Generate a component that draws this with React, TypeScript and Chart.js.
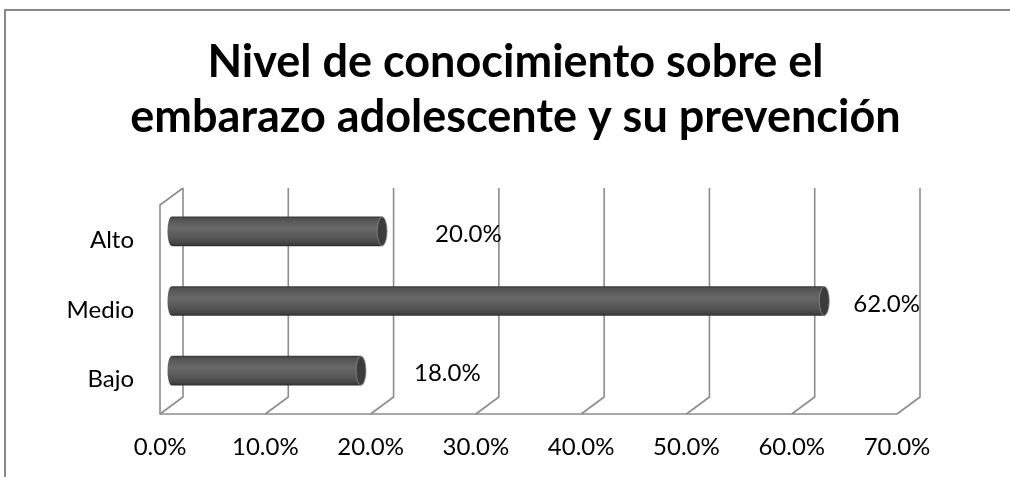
import React, { useEffect, useRef } from 'react';
import { Chart, registerables } from 'chart.js';

Chart.register(...registerables);

const categories = ['Alto', 'Medio', 'Bajo'];
const values = [20.0, 62.0, 18.0];
const axisMin = 0;
const axisMax = 70;
const axisStep = 10;
const titleLines = ['Nivel de conocimiento sobre el', 'embarazo adolescente y su prevención'];

const FONT = 'Lato, "Open Sans", sans-serif';
const DX = 11.5;
const DY = 8.5;
const GRID = '#8c8c8c';
const BAR_H = 29;

function bodyGradient(ctx: CanvasRenderingContext2D, top: number, bottom: number) {
  const g = ctx.createLinearGradient(0, top, 0, bottom);
  g.addColorStop(0, '#3a3a3a');
  g.addColorStop(0.08, '#535353');
  g.addColorStop(0.38, '#686868');
  g.addColorStop(0.72, '#565656');
  g.addColorStop(0.92, '#444444');
  g.addColorStop(1, '#2e2e2e');
  return g;
}

const framePlugin = {
  id: 'frame3d',
  beforeDatasetsDraw(chart: any) {
    const { ctx, chartArea: a, scales } = chart;
    const x = scales.x;
    ctx.save();
    // outer chart frame
    ctx.strokeStyle = '#878787';
    ctx.lineWidth = 2;
    ctx.beginPath();
    ctx.moveTo(5, 480);
    ctx.lineTo(5, 10);
    ctx.lineTo(1030, 10);
    ctx.stroke();

    ctx.strokeStyle = GRID;
    ctx.lineWidth = 1.6;
    const backTop = a.top - DY;
    const backBottom = a.bottom - DY;
    const frontBottom = a.bottom + DY;
    for (let v = axisMin; v <= axisMax; v += axisStep) {
      const m = x.getPixelForValue(v);
      ctx.beginPath();
      ctx.moveTo(m + DX, backTop);
      ctx.lineTo(m + DX, backBottom);
      ctx.lineTo(m - DX, frontBottom);
      ctx.stroke();
    }
    const f0 = x.getPixelForValue(axisMin) - DX;
    const f1 = x.getPixelForValue(axisMax) - DX;
    ctx.beginPath();
    ctx.moveTo(f1, frontBottom);
    ctx.lineTo(f0, frontBottom);
    ctx.lineTo(f0, a.top + DY);
    ctx.lineTo(f0 + 2 * DX, backTop);
    ctx.stroke();

    // title
    ctx.fillStyle = '#000';
    ctx.font = `bold 45px ${FONT}`;
    ctx.textAlign = 'center';
    ctx.textBaseline = 'alphabetic';
    ctx.fillText(titleLines[0], 515.5, 77);
    ctx.fillText(titleLines[1], 515.5, 132);
    ctx.restore();
  },
  afterDatasetsDraw(chart: any) {
    const { ctx, scales } = chart;
    const x = scales.x;
    const meta = chart.getDatasetMeta(0);
    ctx.save();
    meta.data.forEach((el: any, i: number) => {
      const p = el.getProps(['x', 'y', 'base', 'height'], true);
      const h = p.height;
      const top = p.y - h / 2;
      if (![p.x, p.y, p.base, h].every(Number.isFinite)) return;
      // left rounded end
      ctx.fillStyle = bodyGradient(ctx, top, top + h);
      ctx.beginPath();
      ctx.ellipse(p.base, p.y, 4, h / 2, 0, 0, Math.PI * 2);
      ctx.fill();
      // right cap
      ctx.fillStyle = '#3c3c3c';
      ctx.strokeStyle = '#8a8a8a';
      ctx.lineWidth = 0.8;
      ctx.beginPath();
      ctx.ellipse(p.x, p.y, 5, h / 2, 0, 0, Math.PI * 2);
      ctx.fill();
      ctx.stroke();

      // data label
      const text = values[i].toFixed(1) + '%';
      ctx.font = `24px ${FONT}`;
      ctx.fillStyle = '#000';
      ctx.textAlign = 'left';
      ctx.textBaseline = 'middle';
      const w = ctx.measureText(text).width;
      const limit = x.getPixelForValue(axisMax) + DX - w;
      const lx = Math.min(p.x + 53, limit);
      ctx.fillText(text, lx, p.y + 3);
    });
    ctx.restore();
  },
};

export default function App() {
  const ref = useRef<HTMLCanvasElement>(null);
  useEffect(() => {
    if (!ref.current) return;
    const chart = new Chart(ref.current, {
      type: 'bar',
      data: {
        labels: categories,
        datasets: [
          {
            data: values,
            barThickness: BAR_H,
            borderWidth: 0,
            backgroundColor: (c: any) => {
              const ch = c.chart;
              const y = ch.scales && ch.scales.y;
              if (!y || c.type !== 'data') return '#555555';
              const yc = y.getPixelForValue(c.dataIndex);
              if (!Number.isFinite(yc)) return '#555555';
              return bodyGradient(ch.ctx, yc - BAR_H / 2, yc + BAR_H / 2);
            },
          },
        ],
      },
      options: {
        indexAxis: 'y',
        animation: false,
        responsive: true,
        maintainAspectRatio: false,
        layout: { padding: { top: 196.5, right: 101.5, left: 0, bottom: 0 } },
        plugins: {
          legend: { display: false },
          title: { display: false },
          tooltip: { enabled: false },
        },
        scales: {
          x: {
            min: axisMin,
            max: axisMax,
            grid: { display: false },
            border: { display: false },
            ticks: {
              stepSize: axisStep,
              color: '#000',
              font: { family: FONT, size: 24 },
              padding: 19,
              labelOffset: -DX,
              maxRotation: 0,
              callback: (v: any) => Number(v).toFixed(1) + '%',
            },
            afterFit: (s: any) => {
              s.height = 71.5;
            },
          },
          y: {
            grid: { display: false },
            border: { display: false },
            ticks: {
              color: '#000',
              font: { family: FONT, size: 24 },
              padding: 29.5,
              labelOffset: 9,
            },
            afterFit: (s: any) => {
              s.width = 171.5;
            },
          },
        },
      },
      plugins: [framePlugin],
    });
    return () => chart.destroy();
  }, []);
  return (
    <div style={{ position: 'fixed', left: 0, top: 0, width: 1010, height: 477, background: '#fff' }}>
      <canvas ref={ref} />
    </div>
  );
}
